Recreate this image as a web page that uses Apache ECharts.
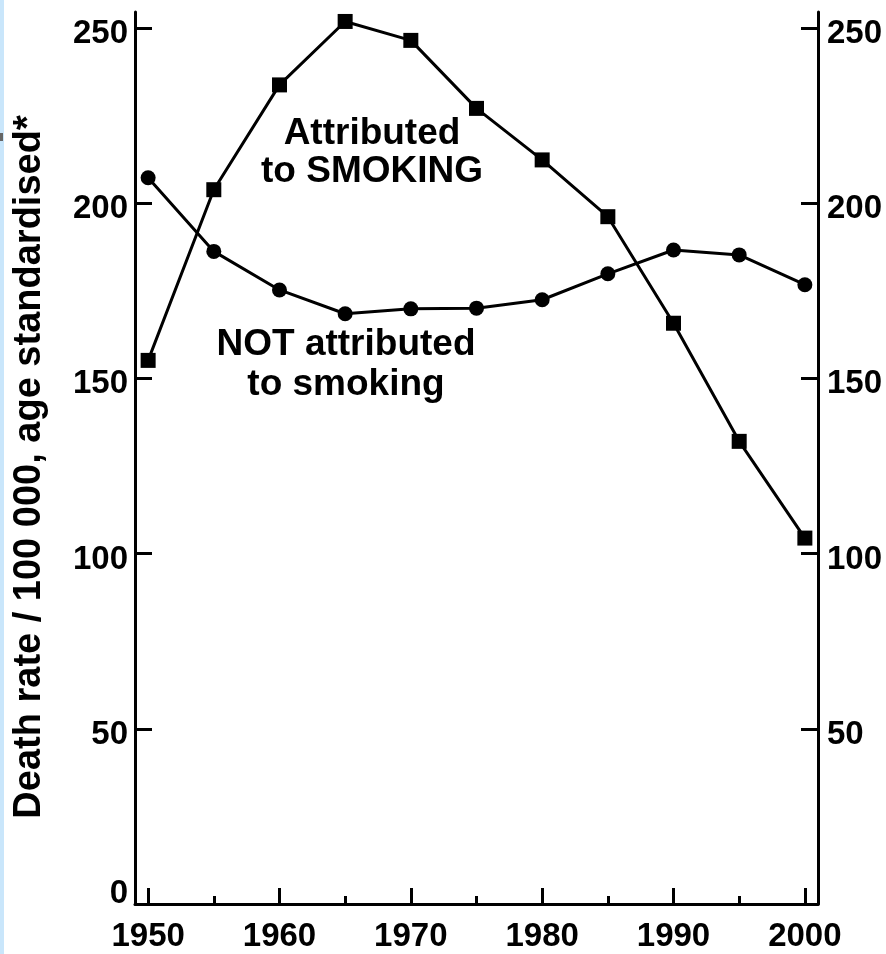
<!DOCTYPE html>
<html>
<head>
<meta charset="utf-8">
<script src="https://cdn.jsdelivr.net/npm/echarts@6/dist/echarts.min.js"></script>
<style>html,body{margin:0;padding:0;background:#fff;}#c{width:886px;height:954px;}</style>
</head>
<body>
<div id="c"></div>
<script>
const years = [1950, 1955, 1960, 1965, 1970, 1975, 1980, 1985, 1990, 1995, 2000];
const smoking = [155.1, 203.8, 233.7, 251.8, 246.4, 227.0, 212.3, 196.1, 165.7, 132.0, 104.4];
const notSmoking = [207.2, 186.2, 175.2, 168.4, 169.8, 170.0, 172.4, 179.8, 186.6, 185.2, 176.7];
const yTicksLeft = [0, 50, 100, 150, 200, 250];
const yTicksRight = [50, 100, 150, 200, 250];
const xMajor = [1950, 1960, 1970, 1980, 1990, 2000];
const xMinor = [1955, 1965, 1975, 1985, 1995];
const yTitle = 'Death rate / 100 000, age standardised*';
const labelSmoking = 'Attributed\nto SMOKING';
const labelNot = 'NOT attributed\nto smoking';

const FF = '"Liberation Sans", Arial, Helvetica, sans-serif';
const chart = echarts.init(document.getElementById('c'), null, {renderer: 'canvas', width: 886, height: 954});

const lblRich = {
  n: {fontSize: 33, fontWeight: 'bold', color: '#000', fontFamily: FF, padding: [12, 0, 0, 0]},
  z: {fontSize: 33, fontWeight: 'bold', color: '#000', fontFamily: FF, padding: [0, 0, 20, 0]}
};
const yFmt = v => (v === 0 ? '{z|0}' : '{n|' + v + '}');

function yAxisDef(pos, ticks) {
  return {
    type: 'value', position: pos, min: 0, max: 254.5,
    axisLine: {show: true, lineStyle: {color: '#000', width: 3}},
    axisTick: {show: true, inside: true, length: 17, lineStyle: {color: '#000', width: 3}, customValues: ticks},
    axisLabel: {show: true, customValues: ticks, margin: pos === 'left' ? 7 : 9, formatter: yFmt, rich: lblRich},
    splitLine: {show: false}
  };
}

chart.setOption({
  animation: false,
  backgroundColor: '#ffffff',
  grid: {left: 135, right: 68, top: 12, bottom: 50},
  xAxis: [
    {
      type: 'value', position: 'bottom', min: 1949, max: 2001,
      axisLine: {show: true, lineStyle: {color: '#000', width: 3}},
      axisTick: {show: true, inside: true, length: 16, lineStyle: {color: '#000', width: 3}, customValues: xMajor},
      axisLabel: {show: true, customValues: xMajor, formatter: v => String(v), fontSize: 33, fontWeight: 'bold', color: '#000', fontFamily: FF, margin: 16},
      splitLine: {show: false}
    },
    {
      type: 'value', position: 'bottom', min: 1949, max: 2001,
      axisLine: {show: false},
      axisTick: {show: true, inside: true, length: 8, lineStyle: {color: '#000', width: 3}, customValues: xMinor},
      axisLabel: {show: false},
      splitLine: {show: false}
    }
  ],
  yAxis: [yAxisDef('left', yTicksLeft), yAxisDef('right', yTicksRight)],
  series: [
    {
      name: 'Attributed to SMOKING', type: 'line', xAxisIndex: 0, yAxisIndex: 0,
      data: years.map((y, i) => [y, smoking[i]]),
      symbol: 'rect', symbolSize: 15, showAllSymbol: true,
      lineStyle: {color: '#000', width: 3}, itemStyle: {color: '#000'}
    },
    {
      name: 'NOT attributed to smoking', type: 'line', xAxisIndex: 0, yAxisIndex: 0,
      data: years.map((y, i) => [y, notSmoking[i]]),
      symbol: 'circle', symbolSize: 15, showAllSymbol: true,
      lineStyle: {color: '#000', width: 3}, itemStyle: {color: '#000'}
    }
  ],
  graphic: [
    {type: 'rect', left: 0, top: 0, shape: {x: 0, y: 0, width: 4, height: 954}, style: {fill: '#c9e6fb'}, silent: true},
    {type: 'rect', shape: {x: 0, y: 133, width: 3, height: 8}, style: {fill: '#666'}, silent: true},
    {type: 'text', x: 30, y: 467, rotation: Math.PI / 2,
      style: {text: yTitle, font: 'bold 38px ' + FF, fill: '#000', align: 'center', verticalAlign: 'middle'}},
    {type: 'text', x: 372, y: 115,
      style: {text: labelSmoking, font: 'bold 37px ' + FF, lineHeight: 38, fill: '#000', align: 'center', verticalAlign: 'top'}},
    {type: 'text', x: 346, y: 325,
      style: {text: labelNot, font: 'bold 37px ' + FF, lineHeight: 40, fill: '#000', align: 'center', verticalAlign: 'top'}}
  ]
});
</script>
</body>
</html>
